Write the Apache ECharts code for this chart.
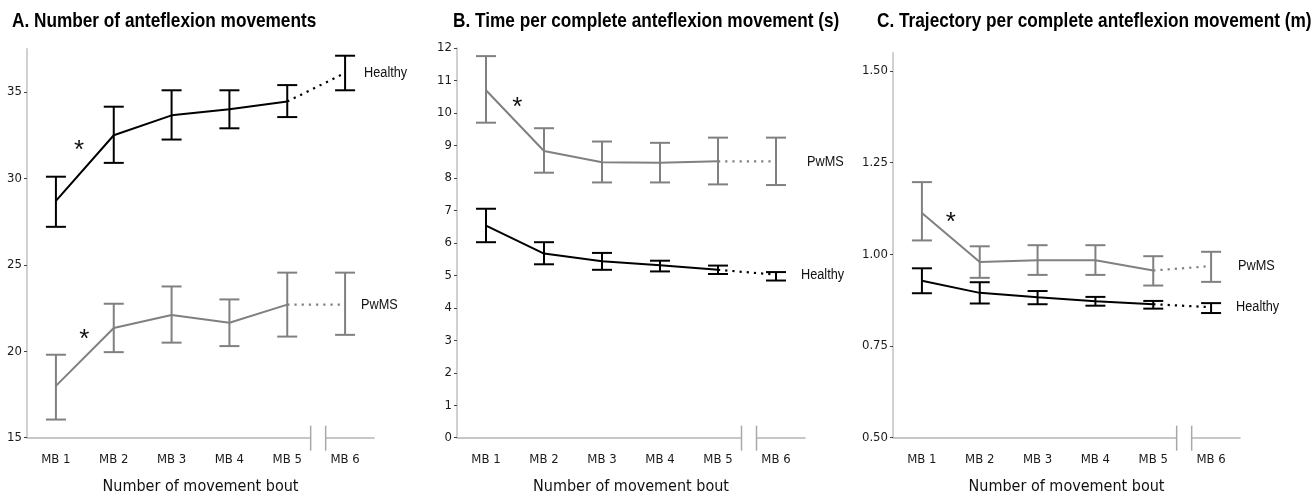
<!DOCTYPE html>
<html><head><meta charset="utf-8">
<script src="https://cdn.jsdelivr.net/npm/echarts@6/dist/echarts.min.js"></script>
<style>html,body{margin:0;padding:0;background:#fff}#c{width:1313px;height:497px}</style>
</head><body><div id="c"></div><script>
// ---------- data ----------
const categories = ['MB 1', 'MB 2', 'MB 3', 'MB 4', 'MB 5', 'MB 6'];

const titleA = 'A. Number of anteflexion movements';
const titleB = 'B. Time per complete anteflexion movement (s)';
const titleC = 'C. Trajectory per complete anteflexion movement (m)';
const xAxisName = 'Number of movement bout';

const yTicksA = [15, 20, 25, 30, 35];
const yTicksB = [0, 1, 2, 3, 4, 5, 6, 7, 8, 9, 10, 11, 12];
const yTicksC = [0.50, 0.75, 1.00, 1.25, 1.50];

const healthyA_mean = [28.7, 32.5, 33.65, 34.0, 34.45, 36.1];
const healthyA_low  = [27.2, 30.9, 32.25, 32.9, 33.55, 35.1];
const healthyA_high = [30.1, 34.15, 35.1, 35.1, 35.4, 37.1];
const pwmsA_mean = [18.0, 21.35, 22.1, 21.65, 22.7, 22.7];
const pwmsA_low  = [16.05, 19.95, 20.5, 20.3, 20.85, 20.95];
const pwmsA_high = [19.8, 22.75, 23.75, 23.0, 24.55, 24.55];

const pwmsB_mean = [10.7, 8.83, 8.48, 8.47, 8.51, 8.51];
const pwmsB_low  = [9.7, 8.16, 7.86, 7.86, 7.8, 7.78];
const pwmsB_high = [11.75, 9.53, 9.12, 9.08, 9.24, 9.24];
const healthyB_mean = [6.53, 5.67, 5.43, 5.31, 5.17, 5.02];
const healthyB_low  = [6.02, 5.34, 5.17, 5.12, 5.04, 4.84];
const healthyB_high = [7.05, 6.02, 5.69, 5.45, 5.30, 5.10];

const pwmsC_mean = [1.113, 0.979, 0.984, 0.984, 0.956, 0.968];
const pwmsC_low  = [1.038, 0.936, 0.944, 0.944, 0.915, 0.925];
const pwmsC_high = [1.197, 1.022, 1.025, 1.025, 0.995, 1.007];
const healthyC_mean = [0.928, 0.895, 0.883, 0.872, 0.864, 0.856];
const healthyC_low  = [0.894, 0.866, 0.864, 0.860, 0.852, 0.840];
const healthyC_high = [0.962, 0.924, 0.900, 0.884, 0.873, 0.867];

// significance markers: [category index, fraction toward next category, value]
const starsA = [[0, 0.40, 31.9], [0, 0.49, 20.95]];
const starsB = [[0, 0.54, 10.31]];
const starsC = [[0, 0.50, 1.10]];

// ---------- styling / layout ----------
const AXFONT = "'DejaVu Sans Condensed','DejaVu Sans',sans-serif";
const NARROW = "'Liberation Sans',Arial,sans-serif";   // drawn with scaleX to mimic a narrow face
const NARROW_SX = 0.82;
const COL_H = '#000000';
const COL_P = '#808080';

const panels = [
  { title: titleA, ticks: yTicksA, min: 15, max: 37.5, dec: 0, stars: starsA,
    grid: { left: 27, right: 939, top: 48.8, bottom: 59.3 }, titleLeft: 12,
    groups: [
      { name: 'Healthy', color: COL_H, mean: healthyA_mean, low: healthyA_low, high: healthyA_high, off: 19 },
      { name: 'PwMS', color: COL_P, mean: pwmsA_mean, low: pwmsA_low, high: pwmsA_high, off: 16 } ] },
  { title: titleB, ticks: yTicksB, min: 0, max: 12, dec: 0, stars: starsB,
    grid: { left: 457, right: 508, top: 48, bottom: 59.3 }, titleLeft: 453,
    groups: [
      { name: 'PwMS', color: COL_P, mean: pwmsB_mean, low: pwmsB_low, high: pwmsB_high, off: 31 },
      { name: 'Healthy', color: COL_H, mean: healthyB_mean, low: healthyB_low, high: healthyB_high, off: 25 } ] },
  { title: titleC, ticks: yTicksC, min: 0.5, max: 1.55, dec: 2, stars: starsC,
    grid: { left: 893, right: 73, top: 52.7, bottom: 59.3 }, titleLeft: 877,
    groups: [
      { name: 'PwMS', color: COL_P, mean: pwmsC_mean, low: pwmsC_low, high: pwmsC_high, off: 27 },
      { name: 'Healthy', color: COL_H, mean: healthyC_mean, low: healthyC_low, high: healthyC_high, off: 25 } ] }
];

const option = { animation: false, backgroundColor: '#fff', graphic: { elements: [] }, grid: [], xAxis: [], yAxis: [], series: [] };

panels.forEach((p, gi) => {
  option.graphic.elements.push({ type: 'text', x: p.titleLeft, y: 21, scaleX: NARROW_SX, silent: true,
    style: { text: p.title, fontFamily: NARROW, fontWeight: 'bold', fontSize: 21, fill: '#000', align: 'left', verticalAlign: 'middle' } });
  option.grid.push(Object.assign({ containLabel: false, outerBoundsMode: 'none' }, p.grid));
  option.xAxis.push({
    gridIndex: gi, type: 'category', data: categories, boundaryGap: true,
    axisLine: { show: true, lineStyle: { color: '#b5b5b5', width: 1.5 } },
    axisTick: { show: false }, splitLine: { show: false },
    axisLabel: { fontFamily: AXFONT, fontSize: 13, color: '#1a1a1a', margin: 15.5 },
    name: xAxisName, nameLocation: 'middle', nameGap: 41,
    nameTextStyle: { fontFamily: AXFONT, fontSize: 16, color: '#111' }
  });
  option.yAxis.push({
    gridIndex: gi, type: 'value', min: p.min, max: p.max,
    axisLine: { show: true, lineStyle: { color: '#c2c2c2', width: 1.5 } },
    axisTick: { show: true, length: 3, customValues: p.ticks, lineStyle: { color: '#444', width: 1 } },
    splitLine: { show: false },
    axisLabel: { customValues: p.ticks, fontFamily: AXFONT, fontSize: 13, color: '#1a1a1a', margin: 5,
      formatter: v => Number(v).toFixed(p.dec) }
  });

  p.groups.forEach(g => {
    const solid = g.mean.map((v, i) => i <= 4 ? v : null);
    const dotted = g.mean.map((v, i) => i >= 4 ? v : null);
    option.series.push({ type: 'line', xAxisIndex: gi, yAxisIndex: gi, data: solid, showSymbol: false, symbol: 'none',
      lineStyle: { color: g.color, width: 2 }, z: 3 });
    option.series.push({ type: 'line', xAxisIndex: gi, yAxisIndex: gi, data: dotted, showSymbol: false, symbol: 'none',
      lineStyle: { color: g.color, width: 2.2, type: [2.2, 5] }, z: 3 });
    const ebData = g.mean.map((m, i) => [i, g.low[i], g.high[i], m]);
    const last = ebData.length - 1;
    option.series.push({
      type: 'custom', xAxisIndex: gi, yAxisIndex: gi, data: ebData, encode: { x: 0, y: [1, 2] }, z: 4, clip: false,
      renderItem: (params, api) => {
        const i = api.value(0);
        const lo = api.coord([i, api.value(1)]);
        const hi = api.coord([i, api.value(2)]);
        const hw = 10;
        const st = { stroke: g.color, lineWidth: 2 };
        const ch = [
          { type: 'line', shape: { x1: lo[0], y1: lo[1], x2: hi[0], y2: hi[1] }, style: st },
          { type: 'line', shape: { x1: lo[0] - hw, y1: lo[1], x2: lo[0] + hw, y2: lo[1] }, style: st },
          { type: 'line', shape: { x1: hi[0] - hw, y1: hi[1], x2: hi[0] + hw, y2: hi[1] }, style: st }
        ];
        if (params.dataIndex === last) {
          const mp = api.coord([i, api.value(3)]);
          ch.push({ type: 'text', x: mp[0] + g.off, y: mp[1], scaleX: NARROW_SX,
            style: { text: g.name, fill: '#111', fontFamily: NARROW, fontSize: 15.5, align: 'left', verticalAlign: 'middle' } });
        }
        return { type: 'group', children: ch };
      }
    });
  });

  // significance asterisks
  option.series.push({
    type: 'custom', xAxisIndex: gi, yAxisIndex: gi, data: p.stars, encode: { x: 0, y: 2 }, z: 5, clip: false,
    renderItem: (params, api) => {
      const i = api.value(0), f = api.value(1), v = api.value(2);
      const a = api.coord([i, v]), b = api.coord([i + 1, v]);
      const x = a[0] + f * (b[0] - a[0]);
      return { type: 'text', x: x, y: a[1] + 5,
        style: { text: '*', fill: '#111', fontFamily: "'Liberation Sans',sans-serif", fontSize: 26, align: 'center', verticalAlign: 'middle' } };
    }
  });

  // axis break between MB 5 and MB 6
  option.series.push({
    type: 'custom', xAxisIndex: gi, yAxisIndex: gi, data: [[4, p.min]], encode: { x: 0, y: 1 }, z: 6, clip: false, silent: true,
    renderItem: (params, api) => {
      const a = api.coord([4, p.min]), b = api.coord([5, p.min]);
      const xm = (a[0] + b[0]) / 2 + 2, y = a[1];
      const gap = 7.5;
      const st = { stroke: '#a8a8a8', lineWidth: 1.5 };
      return { type: 'group', children: [
        { type: 'rect', shape: { x: xm - gap, y: y - 2, width: gap * 2, height: 4 }, style: { fill: '#fff' } },
        { type: 'line', shape: { x1: xm - gap, y1: y - 12, x2: xm - gap, y2: y + 13 }, style: st },
        { type: 'line', shape: { x1: xm + gap, y1: y - 12, x2: xm + gap, y2: y + 13 }, style: st }
      ] };
    }
  });
});

const chart = echarts.init(document.getElementById('c'), null, { renderer: 'canvas' });
chart.setOption(option);
</script></body></html>
